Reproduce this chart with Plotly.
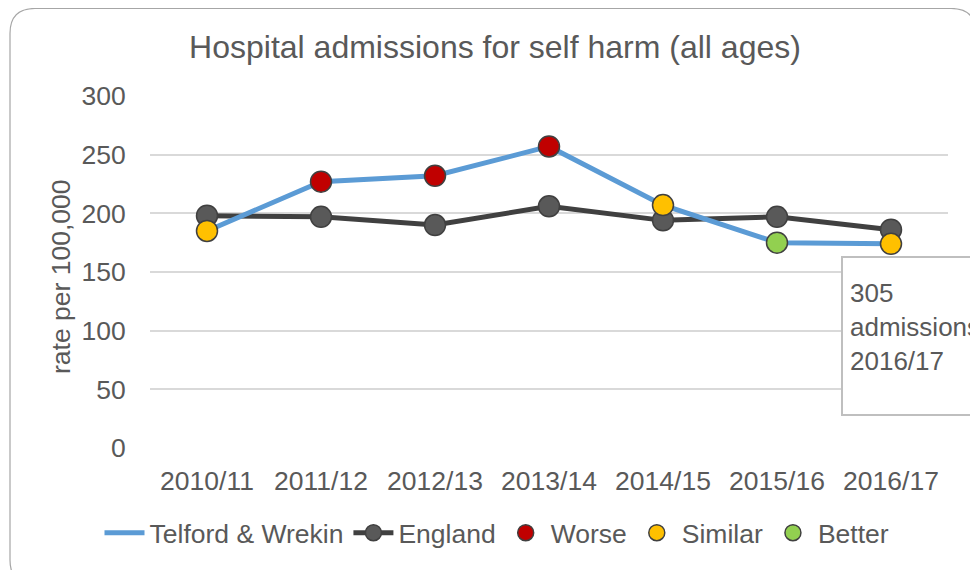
import plotly.graph_objects as go

years = ["2010/11", "2011/12", "2012/13", "2013/14", "2014/15", "2015/16", "2016/17"]
telford = [185, 227, 232, 257, 207, 175, 174]
england = [198, 197, 190, 206, 194, 197, 186]
status = ["Similar", "Worse", "Worse", "Worse", "Similar", "Better", "Similar"]
status_colors = {"Worse": "#C00000", "Similar": "#FFC000", "Better": "#92D050"}
y_ticks = [0, 50, 100, 150, 200, 250, 300]
title_text = "Hospital admissions for self harm (all ages)"
y_title = "rate per 100,000"
note_lines = ["305", "admissions", "2016/17"]

FONT = "Liberation Sans, Arial, sans-serif"
GREY = "#595959"

OFF = 8  # page body margin
W, H = 978 - OFF, 570 - OFF
# target screen coordinates of the plot area
SL, SR, ST, SB = 150, 948, 96, 448
PL, PR, PT, PB = SL - OFF, SR - OFF, ST - OFF, SB - OFF


def px(x):
    """screen x -> paper x"""
    return (x - SL) / (SR - SL)


def py(y):
    """screen y -> paper y"""
    return (SB - y) / (SB - ST)


fig = go.Figure()

fig.add_trace(go.Scatter(
    x=years, y=england, name="England", mode="lines+markers",
    line=dict(color="#404040", width=5),
    marker=dict(size=21, color="#595959", line=dict(color="#404040", width=1.5)),
    legendrank=2,
))
fig.add_trace(go.Scatter(
    x=years, y=telford, name="Telford & Wrekin", mode="lines",
    line=dict(color="#5B9BD5", width=5),
    legendrank=1,
))
for rank, st in enumerate(["Worse", "Similar", "Better"], start=3):
    xs = [yv for yv, s in zip(years, status) if s == st]
    ys = [v for v, s in zip(telford, status) if s == st]
    fig.add_trace(go.Scatter(
        x=xs, y=ys, name=st, mode="markers",
        marker=dict(size=21, color=status_colors[st], line=dict(color="#404040", width=1.5)),
        legendrank=rank,
    ))

# outer rounded border
r = 25
x0, y0, x1, y1 = 10, 8.5, 976, 585
path = (
    f"M {px(x0 + r)},{py(y0)} L {px(x1 - r)},{py(y0)} "
    f"Q {px(x1)},{py(y0)} {px(x1)},{py(y0 + r)} "
    f"L {px(x1)},{py(y1 - r)} Q {px(x1)},{py(y1)} {px(x1 - r)},{py(y1)} "
    f"L {px(x0 + r)},{py(y1)} Q {px(x0)},{py(y1)} {px(x0)},{py(y1 - r)} "
    f"L {px(x0)},{py(y0 + r)} Q {px(x0)},{py(y0)} {px(x0 + r)},{py(y0)} Z"
)
shapes = [dict(type="path", xref="paper", yref="paper", path=path,
               line=dict(color="#A6A6A6", width=1.2), layer="below")]

# callout box
bpath = (
    f"M {px(842)},{py(257)} L {px(995)},{py(257)} L {px(995)},{py(372)} "
    f"L {px(972)},{py(415)} L {px(842)},{py(415)} Z"
)
shapes.append(dict(type="path", xref="paper", yref="paper", path=bpath,
                   line=dict(color="#BFBFBF", width=2), fillcolor="white", layer="above"))

annotations = [
    dict(text="<br>".join(note_lines), xref="paper", yref="paper",
         x=px(848), y=py(276), xanchor="left", yanchor="top", align="left",
         showarrow=False, font=dict(family=FONT, size=26, color=GREY)),
    dict(text=y_title, xref="paper", yref="paper", x=px(61), y=py(277),
         xanchor="center", yanchor="middle", textangle=-90, showarrow=False,
         font=dict(family=FONT, size=26.5, color=GREY)),
]

fig.update_layout(
    width=W, height=H,
    margin=dict(l=PL, r=W - PR, t=PT, b=H - PB, pad=0),
    paper_bgcolor="white", plot_bgcolor="white",
    font=dict(family=FONT, size=26, color=GREY),
    title=dict(text=title_text, x=(495 - OFF) / W, xanchor="center", xref="container",
               y=1 - (47 - OFF) / H, yanchor="middle", yref="container",
               font=dict(family=FONT, size=32, color=GREY)),
    showlegend=True,
    legend=dict(orientation="h", xref="container", yref="container",
                x=(497 - OFF) / W, xanchor="center", y=1 - (533 - OFF) / H, yanchor="middle",
                font=dict(family=FONT, size=26.5, color=GREY),
                itemwidth=40, tracegroupgap=0, bgcolor="rgba(0,0,0,0)"),
    shapes=shapes, annotations=annotations,
)
fig.update_xaxes(type="category", categoryorder="array", categoryarray=years,
                 range=[-0.5, 6.5], showgrid=False, showline=False, zeroline=False,
                 ticks="outside", ticklen=9, tickcolor="rgba(0,0,0,0)",
                 tickfont=dict(family=FONT, size=26.5, color=GREY))
fig.update_yaxes(range=[0, 300], tickvals=y_ticks, showgrid=True, gridcolor="#D9D9D9",
                 gridwidth=1.5, zeroline=False, showline=False,
                 ticks="outside", ticklen=18, tickcolor="rgba(0,0,0,0)",
                 tickfont=dict(family=FONT, size=26.5, color=GREY))

fig.write_html("out.html")
